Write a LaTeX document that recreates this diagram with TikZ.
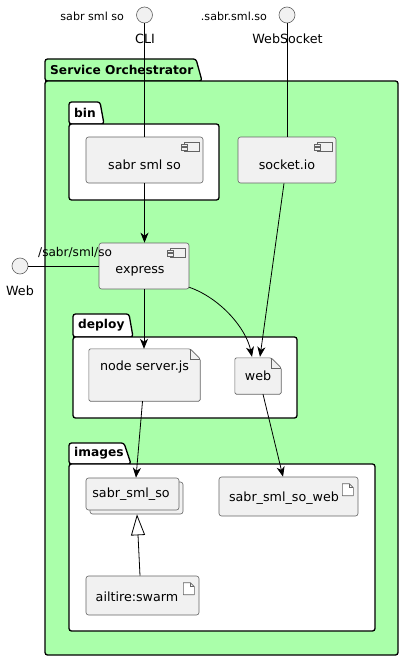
\documentclass[tikz,border=0pt]{standalone}
\usepackage{fontspec}
\setmainfont{DejaVu Sans}
\usetikzlibrary{arrows.meta}
\definecolor{pkggreen}{RGB}{170,255,170}
\definecolor{nodefill}{RGB}{241,241,241}
\definecolor{nodeline}{RGB}{100,100,100}
\tikzset{
  nodetext/.style={font=\fontsize{12.7}{15}\selectfont},
  smalllbl/.style={font=\fontsize{11.1}{13}\selectfont},
  pkgtitle/.style={font=\fontsize{12.2}{14}\selectfont\bfseries, inner sep=0pt},
  comp/.style={draw=nodeline, fill=nodefill, rounded corners=2.5pt, line width=0.6pt, inner sep=0pt},
  plainbox/.style={inner sep=0pt},
  iface/.style={circle, draw=nodeline, fill=nodefill, minimum size=16pt, inner sep=0pt, line width=0.6pt},
  pkgline/.style={draw=black, line width=1.3pt, rounded corners=2.5pt},
  conn/.style={draw=black, line width=0.8pt},
  arr/.style={conn, -{Stealth[length=10pt, width=8pt, inset=3pt]}},
  inherit/.style={conn, -{Triangle[open, length=21pt, width=14pt, fill=white]}},
}
% component icon at north east of a node
\newcommand{\compicon}[1]{%
  \draw[nodeline, line width=0.6pt, fill=nodefill] ([xshift=-19pt, yshift=-5.5pt]#1.north east) rectangle ([xshift=-4.5pt, yshift=-15pt]#1.north east);
  \draw[nodeline, line width=0.6pt, fill=nodefill] ([xshift=-22pt, yshift=-7.5pt]#1.north east) rectangle ([xshift=-16.5pt, yshift=-10pt]#1.north east);
  \draw[nodeline, line width=0.6pt, fill=nodefill] ([xshift=-22pt, yshift=-11pt]#1.north east) rectangle ([xshift=-16.5pt, yshift=-13.5pt]#1.north east);
}
% folded-corner artifact outline around a node
\newcommand{\foldshape}[1]{%
  \draw[nodeline, fill=nodefill, line width=0.6pt, rounded corners=1.5pt]
    (#1.south west) -- (#1.north west) -- ([xshift=-10pt]#1.north east) -- ([yshift=-10pt]#1.north east) -- (#1.south east) -- cycle;
  \draw[nodeline, line width=0.6pt] ([xshift=-10pt]#1.north east) -- ([xshift=-10pt, yshift=-10pt]#1.north east) -- ([yshift=-10pt]#1.north east);
}
% small artifact icon at north east of a node
\newcommand{\articon}[1]{%
  \draw[nodeline, line width=0.6pt, fill=white, line join=round]
    ([xshift=-16pt, yshift=-7pt]#1.north east) -- ([xshift=-16pt, yshift=-19pt]#1.north east) -- ([xshift=-5pt, yshift=-19pt]#1.north east) -- ([xshift=-5pt, yshift=-11pt]#1.north east) -- ([xshift=-9pt, yshift=-7pt]#1.north east) -- cycle;
  \draw[nodeline, line width=0.6pt] ([xshift=-9pt, yshift=-7pt]#1.north east) -- ([xshift=-9pt, yshift=-11pt]#1.north east) -- ([xshift=-5pt, yshift=-11pt]#1.north east);
}
\begin{document}
\begin{tikzpicture}[x=1pt, y=-1pt]
\useasboundingbox (0,0) rectangle (404,661);
\fill[white] (0,0) rectangle (404,661);

% ---- Service Orchestrator package
\path[pkgline, fill=pkggreen] (45,81) -- (45,59) -- (196,59) -- (202,81) -- cycle;
\path[pkgline, fill=pkggreen] (45,81) rectangle (398,655);
\node[pkgtitle, anchor=west] (tso) at (50,70) {Service Orchestrator};

% ---- bin package
\path[pkgline, fill=white] (69,124) -- (69,102) -- (100,102) -- (104,124) -- cycle;
\path[pkgline, fill=white] (69,124) rectangle (219,200);
\node[pkgtitle, anchor=west] (tbin) at (74,113) {bin};

% ---- deploy package
\path[pkgline, fill=white] (73,337) -- (73,314) -- (129,314) -- (133,337) -- cycle;
\path[pkgline, fill=white] (73,337) rectangle (297,418);
\node[pkgtitle, anchor=west] (tdeploy) at (78,325) {deploy};

% ---- images package
\path[pkgline, fill=white] (69,464) -- (69,443) -- (124,443) -- (131,464) -- cycle;
\path[pkgline, fill=white] (69,464) rectangle (375,631);
\node[pkgtitle, anchor=west] (timages) at (74,453) {images};

% ---- interfaces
\node[iface] (cli) at (144.5,15) {};
\node[smalllbl, anchor=east] (clilbl) at (127.5,16) {sabr sml so};
\node[iface] (ws) at (287,15) {};
\node[smalllbl, anchor=east] (wslbl) at (270.5,16) {.sabr.sml.so};
\node[iface] (webif) at (20,266) {};

% ---- components
\node[comp, minimum width=117pt, minimum height=46pt] (sabr) at (144.5,160) {};
\node[nodetext] (sabrtxt) at (144.5,165) {sabr sml so};
\compicon{sabr}
\node[comp, minimum width=98pt, minimum height=46pt] (socketio) at (287,160) {};
\node[nodetext] (socketiotxt) at (287,165) {socket.io};
\compicon{socketio}
\node[comp, minimum width=90pt, minimum height=46pt] (express) at (144,266) {};
\node[nodetext] (expresstxt) at (140,271) {express};
\compicon{express}

% ---- deploy artifacts
\node[plainbox, minimum width=111pt, minimum height=52pt] (server) at (144.5,375) {};
\foldshape{server}
\node[nodetext] (servertxt) at (144.5,367) {node server.js};
\node[plainbox, minimum width=46pt, minimum height=36pt] (web) at (258,376) {};
\foldshape{web}
\node[nodetext] (webtxt) at (258,375.5) {web};

% ---- images
\node[comp, minimum width=93pt, minimum height=32pt] (ssoback) at (136.5,498) {};
\node[comp, minimum width=93pt, minimum height=32pt] (sso) at (132.5,494) {};
\node[nodetext] (ssotxt) at (131,494) {sabr\_sml\_so};
\node[comp, minimum width=139pt, minimum height=39pt] (ssow) at (288.5,496.5) {};
\node[nodetext] (ssowtxt) at (284,498) {sabr\_sml\_so\_web};
\articon{ssow}
\node[comp, minimum width=113pt, minimum height=39pt] (swarm) at (142.5,595.5) {};
\node[nodetext] (swarmtxt) at (137,597) {ailtire:swarm};
\articon{swarm}

% ---- interface labels (drawn before lines so lines cross them)
\node[nodetext] (clitxt) at (145,39) {CLI};
\node[nodetext] (wstxt) at (287.5,39) {WebSocket};
\node[nodetext] (webiftxt) at (20,291) {Web};
\node[font=\fontsize{12.1}{14}\selectfont, anchor=west, inner sep=0pt] (webpath) at (38,252) {/sabr/sml/so};

% ---- connectors
\draw[conn] (cli.south) -- (sabr.north);
\draw[conn] (ws.south) -- (socketio.north);
\draw[conn] (webif.east) -- (express.west);
\draw[arr] (sabr.south) -- ([xshift=0.5pt]express.north);
\draw[arr] (express.south) -- ([xshift=-0.5pt]server.north);
\draw[arr] ([yshift=2pt]express.south east) .. controls (220,298) and (246,328) .. ([xshift=-6pt, yshift=1pt]web.north);
\draw[arr] ([xshift=-3pt]socketio.south) -- ([xshift=2pt, yshift=1pt]web.north);
\draw[arr] ([xshift=-2pt]server.south) -- ([xshift=3.5pt]sso.north);
\draw[arr] ([xshift=5pt]web.south) -- ([xshift=-5.5pt]ssow.north);
\draw[inherit] ([xshift=-2.5pt]swarm.north) -- ([xshift=0.5pt]ssoback.south);
\end{tikzpicture}
\end{document}
